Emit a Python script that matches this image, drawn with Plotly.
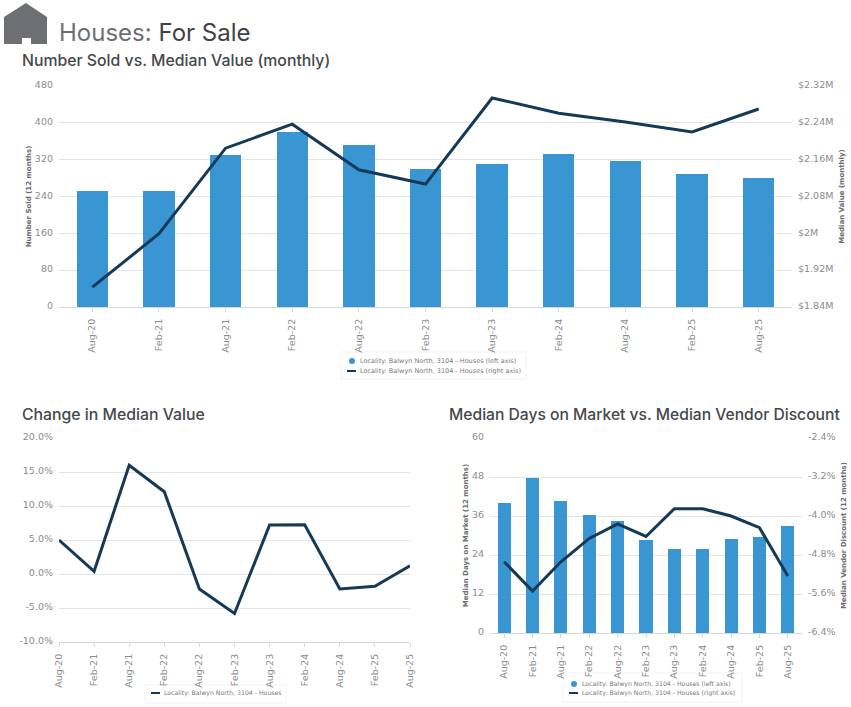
import plotly.graph_objects as go

W = 851
H = 707

dates = ["Aug-20", "Feb-21", "Aug-21", "Feb-22", "Aug-22", "Feb-23", "Aug-23", "Feb-24", "Aug-24", "Feb-25", "Aug-25"]

number_sold = [252, 252, 330, 381, 352, 299, 310, 332, 317, 289, 281]
median_value = [1.883, 1.999, 2.185, 2.237, 2.138, 2.107, 2.294, 2.261, 2.242, 2.22, 2.27]
sold_ticks = [0, 80, 160, 240, 320, 400, 480]
value_ticks = [1.84, 1.92, 2.0, 2.08, 2.16, 2.24, 2.32]
value_labels = ["$1.84M", "$1.92M", "$2M", "$2.08M", "$2.16M", "$2.24M", "$2.32M"]

change_median = [5.0, 0.4, 16.0, 12.1, -2.2, -5.8, 7.2, 7.25, -2.2, -1.8, 1.2]
change_ticks = [-10, -5, 0, 5, 10, 15, 20]

days_on_market = [40, 47.6, 40.6, 36.4, 34.6, 28.5, 25.9, 25.9, 29, 29.4, 32.8]
vendor_discount = [-4.94, -5.54, -4.94, -4.46, -4.16, -4.42, -3.85, -3.85, -4.0, -4.24, -5.23]
days_ticks = [0, 12, 24, 36, 48, 60]
discount_ticks = [-6.4, -5.6, -4.8, -4.0, -3.2, -2.4]
discount_labels = ["-6.4%", "-5.6%", "-4.8%", "-4.0%", "-3.2%", "-2.4%"]

BLUE = "#3a96d3"
NAVY = "#153a58"
GRID = "#e2e4e7"
TICK = "#8a8c8e"
AXIS_TITLE = "#6a6c6e"
HEAD = "#45484b"
TICK_FONT = "DejaVu Sans"
HEAD_FONT = "Inter"
TICK_SIZE = 9.5


def px(x):
    return x / W


def py(y):
    return 1 - y / H


def bar_line_traces(fig, bars, line, xa, ya, ya2, bar_width):
    fig.add_trace(go.Bar(x=dates, y=bars, xaxis=xa, yaxis=ya, width=bar_width,
                         marker=dict(color=BLUE, line=dict(width=0)), showlegend=False))
    fig.add_trace(go.Scatter(x=dates, y=line, xaxis=xa, yaxis=ya2, mode="lines",
                             line=dict(color=NAVY, width=3), showlegend=False))


def x_axis(left, right, anchor, rng):
    return dict(domain=[px(left), px(right)], anchor=anchor, type="category", range=rng,
                automargin=False, tickangle=-90,
                tickfont=dict(family=TICK_FONT, size=TICK_SIZE, color=TICK),
                ticks="outside", ticklen=4, tickcolor="#d5d8dc", ticklabelstandoff=3, showgrid=False,
                showline=True, linecolor="#d5d8dc", linewidth=1, fixedrange=True)


def y_axis(top, bottom, anchor, rng, ticks, title, labels=None, standoff=2):
    return dict(domain=[py(bottom), py(top)], anchor=anchor, range=rng, tickmode="array",
                automargin=False, tickvals=ticks, ticktext=labels if labels else [str(t) for t in ticks],
                tickfont=dict(family=TICK_FONT, size=TICK_SIZE, color=TICK), ticklabelstandoff=5,
                ticklabelshift=-1, showgrid=True, gridcolor=GRID, gridwidth=1, zeroline=False, showline=False,
                title=dict(text=title, standoff=standoff,
                           font=dict(family=TICK_FONT, size=7, color=AXIS_TITLE)))


def y_axis_right(overlay, rng, ticks, labels, title, anchor, label_gap, standoff=6):
    return dict(overlaying=overlay, side="right", anchor=anchor, range=rng, tickmode="array",
                automargin=False, tickvals=ticks, ticktext=labels, showgrid=False, zeroline=False,
                showline=False, ticklabelstandoff=label_gap, ticklabelshift=-1,
                tickfont=dict(family=TICK_FONT, size=TICK_SIZE, color=TICK),
                title=dict(text=title, standoff=standoff,
                           font=dict(family=TICK_FONT, size=7, color=AXIS_TITLE)))


fig = go.Figure()
bar_line_traces(fig, number_sold, median_value, "x", "y", "y2", 0.47)
fig.add_trace(go.Scatter(x=dates, y=change_median, xaxis="x2", yaxis="y3", mode="lines",
                         line=dict(color=NAVY, width=3), showlegend=False))
bar_line_traces(fig, days_on_market, vendor_discount, "x3", "y4", "y5", 0.46)

annotations = []
shapes = []


def text(x, y, s, size, color, family=HEAD_FONT, anchor="left", weight=None):
    font = dict(family=family, size=size, color=color)
    if weight:
        font["weight"] = weight
    annotations.append(dict(x=px(x), y=py(y), xref="paper", yref="paper", text=s, showarrow=False,
                            xanchor=anchor, yanchor="middle", xshift=-1, font=font))


def legend_box(left, top, right, bottom, rows, size):
    shapes.append(dict(type="rect", xref="paper", yref="paper", x0=px(left), x1=px(right),
                       y0=py(top), y1=py(bottom), line=dict(color="#f1f2f3", width=1),
                       fillcolor="white", layer="below"))
    for y, kind, label in rows:
        if kind == "dot":
            shapes.append(dict(type="circle", xref="paper", yref="paper", x0=px(left + 8), x1=px(left + 14),
                               y0=py(y - 3), y1=py(y + 3), fillcolor=BLUE, line=dict(width=0)))
        else:
            shapes.append(dict(type="rect", xref="paper", yref="paper", x0=px(left + 6), x1=px(left + 15),
                               y0=py(y - 1), y1=py(y + 1), fillcolor=NAVY, line=dict(width=0)))
        text(left + 18, y, label, size, "#77797b", family=TICK_FONT)


# house icon and headings
shapes.append(dict(type="path", xref="paper", yref="paper", fillcolor="#6d6f72", line=dict(width=0),
                   path="M %f %f L %f %f L %f %f L %f %f L %f %f L %f %f L %f %f L %f %f L %f %f Z" % (
                       px(4), py(44), px(4), py(17), px(26), py(3), px(47), py(17), px(47), py(44),
                       px(31), py(44), px(31), py(38), px(22), py(38), px(22), py(44))))
text(58, 32, '<span style="color:#6d6f72">Houses:</span> For Sale', 24, "#3f4245")
text(21, 61, "Number Sold vs. Median Value (monthly)", 15.8, HEAD, weight=500)
text(21, 415, "Change in Median Value", 15.8, HEAD, weight=500)
text(448, 415, "Median Days on Market vs. Median Vendor Discount", 15.65, HEAD, weight=500)

legend_box(341, 352, 526, 379, [(361, "dot", "Locality: Balwyn North, 3104 - Houses (left axis)"),
                                (371, "line", "Locality: Balwyn North, 3104 - Houses (right axis)")], 6.5)
legend_box(145, 685, 286, 703, [(693, "line", "Locality: Balwyn North, 3104 - Houses")], 6.2)
legend_box(563, 673, 742, 702, [(684, "dot", "Locality: Balwyn North, 3104 - Houses (left axis)"),
                                (693, "line", "Locality: Balwyn North, 3104 - Houses (right axis)")], 6.2)

fig.update_layout(
    width=W, height=H, margin=dict(l=0, r=0, t=0, b=0), autosize=False,
    paper_bgcolor="white", plot_bgcolor="white", showlegend=False,
    annotations=annotations, shapes=shapes, bargap=0,
    xaxis=x_axis(59, 792, "y", [-0.5, 10.5]),
    yaxis=y_axis(86, 307, "x", [0, 480], sold_ticks, "<b>Number Sold (12 months)</b>"),
    yaxis2=y_axis_right("y", [1.84, 2.32], value_ticks, value_labels,
                        "<b>Median Value (monthly)</b>", "x", 5),
    xaxis2=x_axis(59, 410, "y3", [0, 10]),
    yaxis3=y_axis(438, 642, "x2", [-10, 20], change_ticks, "",
                  labels=["%.1f%%" % t for t in change_ticks]),
    xaxis3=x_axis(490, 802, "y4", [-0.5, 10.5]),
    yaxis4=y_axis(438, 633, "x3", [0, 60], days_ticks, "<b>Median Days on Market (12 months)</b>"),
    yaxis5=y_axis_right("y4", [-6.4, -2.4], discount_ticks, discount_labels,
                        "<b>Median Vendor Discount (12 months)</b>", "x3", 5),
)

fig.write_html("out.html", config=dict(displayModeBar=False), post_script="document.body.style.margin='0';")
